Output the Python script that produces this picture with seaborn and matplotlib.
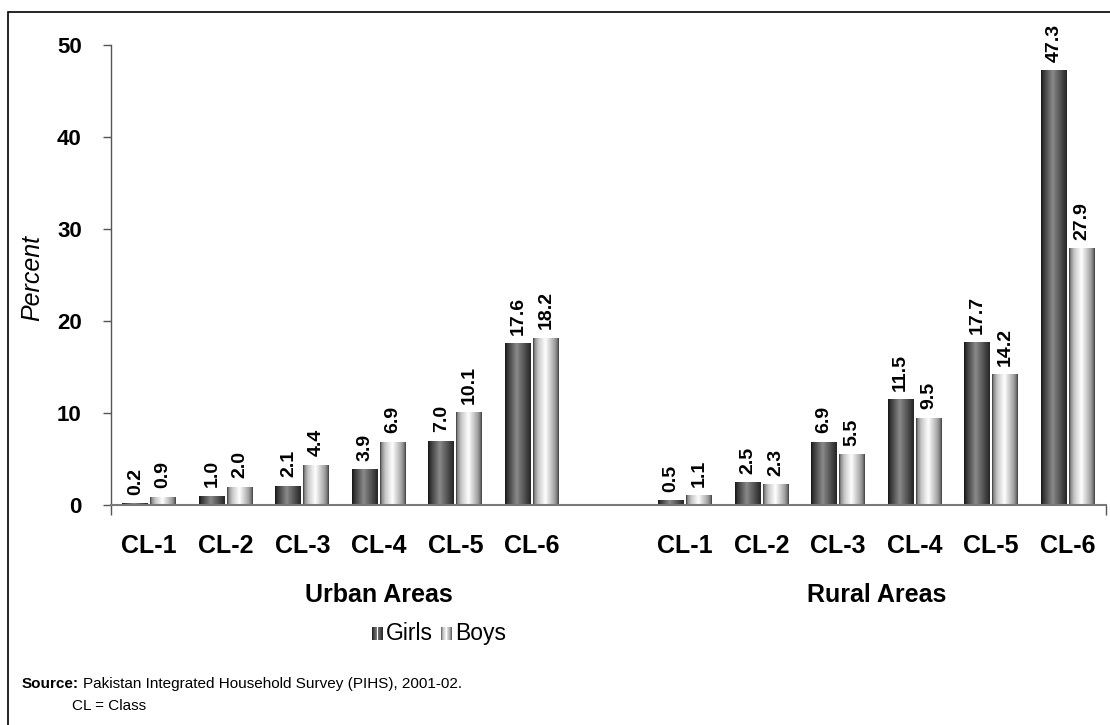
import numpy as np
import pandas as pd
import matplotlib
matplotlib.use("Agg")
import matplotlib.pyplot as plt
from matplotlib.patches import Rectangle
from matplotlib.colors import LinearSegmentedColormap
import matplotlib.transforms as mtrans
import seaborn as sns

# ---- data ----
classes = ["CL-1", "CL-2", "CL-3", "CL-4", "CL-5", "CL-6"]
areas = ["Urban Areas", "Rural Areas"]
urban_girls = [0.2, 1.0, 2.1, 3.9, 7.0, 17.6]
urban_boys = [0.9, 2.0, 4.4, 6.9, 10.1, 18.2]
rural_girls = [0.5, 2.5, 6.9, 11.5, 17.7, 47.3]
rural_boys = [1.1, 2.3, 5.5, 9.5, 14.2, 27.9]
sexes = ["Girls", "Boys"]
y_ticks = [0, 10, 20, 30, 40, 50]

rows = []
for area, g, b in [("U", urban_girls, urban_boys), ("R", rural_girls, rural_boys)]:
    for c, gv, bv in zip(classes, g, b):
        rows.append({"key": f"{area} {c}", "sex": "Girls", "value": gv})
        rows.append({"key": f"{area} {c}", "sex": "Boys", "value": bv})
df = pd.DataFrame(rows)
order = [f"U {c}" for c in classes] + ["gap"] + [f"R {c}" for c in classes]

sns.set_style("white")
plt.rcParams["font.family"] = ["Liberation Sans", "DejaVu Sans"]
plt.rcParams["text.color"] = "black"
plt.rcParams["xtick.color"] = "black"
plt.rcParams["ytick.color"] = "black"

W, H = 1110, 725
fig = plt.figure(figsize=(W / 100, H / 100), dpi=100)
ax = fig.add_axes([111 / W, 1 - 505 / H, (1106 - 111) / W, 460 / H])

sns.barplot(data=df, x="key", y="value", hue="sex", order=order,
            hue_order=sexes, palette=["#555555", "#dddddd"],
            width=0.73, gap=0.07, linewidth=0, errorbar=None,
            legend=False, ax=ax)

# gradients (cylinder-like shading)
girls_cmap = LinearSegmentedColormap.from_list(
    "girls", [(0, "#151515"), (0.08, "#333333"), (0.45, "#8a8a8a"),
              (0.8, "#4a4a4a"), (1, "#262626")])
boys_cmap = LinearSegmentedColormap.from_list(
    "boys", [(0, "#3a3a3a"), (0.06, "#8c8c8c"), (0.2, "#c8c8c8"),
             (0.48, "#ffffff"), (0.85, "#a0a0a0"), (0.95, "#707070"),
             (1, "#404040")])
grad = np.linspace(0, 1, 64).reshape(1, -1)
for cont, cmap in zip(ax.containers, [girls_cmap, boys_cmap]):
    for p in cont.patches:
        x, w, h = p.get_x(), p.get_width(), p.get_height()
        if not np.isfinite(h) or h == 0:
            continue
        im = ax.imshow(grad, cmap=cmap, extent=[x, x + w, 0, h],
                       aspect="auto", interpolation="bilinear", zorder=2)
        im.set_clip_path(p)
    ax.bar_label(cont, fmt="%.1f", rotation=90, padding=6,
                 fontsize=14, fontweight="bold", color="black")

ax.set_xlim(-0.5, len(order) - 0.5)
ax.set_ylim(0, 50)
ax.set_yticks(y_ticks)
ax.set_yticklabels([str(t) for t in y_ticks], fontsize=16, fontweight="bold")
ax.tick_params(axis="y", direction="out", length=6, width=1, color="#555555",
               labelcolor="black", pad=15, left=True)

xlabels = classes + [""] + classes
ax.set_xticks(range(len(order)))
ax.set_xticklabels(xlabels, fontsize=18, fontweight="bold")
ax.tick_params(axis="x", length=0, pad=21, labelcolor="black")
ax.set_xticks([-0.5, len(order) - 0.5], minor=True)
ax.tick_params(axis="x", which="minor", direction="out", length=7, width=1,
               color="#555555", bottom=True)
ax.set_xlabel("")
ax.set_ylabel("")

for s in ["top", "right"]:
    ax.spines[s].set_visible(False)
ax.spines["left"].set_color("#555555")
ax.spines["bottom"].set_color("#7a7a7a")
ax.spines["left"].set_linewidth(1)
ax.spines["bottom"].set_linewidth(1.5)

# group labels
trans = mtrans.blended_transform_factory(ax.transData, ax.transAxes)
ax.text(3.0, -0.196, areas[0], transform=trans, ha="center", va="center",
        fontsize=18, fontweight="bold")
ax.text(9.5, -0.196, areas[1], transform=trans, ha="center", va="center",
        fontsize=18, fontweight="bold")

# y label
fig.text(32 / W, 1 - 278 / H, "Percent", rotation=90, ha="center", va="center",
         fontsize=18, fontstyle="italic")

# legend: gradient swatches + labels (baseline aligned)
for label, cmap, xpix in [(sexes[0], girls_cmap, 372), (sexes[1], boys_cmap, 441)]:
    n = 12
    sw, sh = 11, 13
    for i in range(n):
        fig.patches.append(Rectangle(((xpix + sw * i / n) / W, 1 - 640 / H),
                                     sw / n / W, sh / H, transform=fig.transFigure,
                                     facecolor=cmap((i + 0.5) / n), edgecolor="none"))
    fig.text((xpix + sw + 3) / W, 1 - 640 / H, label, fontsize=16.5,
             ha="left", va="baseline")

# source notes
src_fs = 11
t1 = fig.text(22 / W, 1 - 684 / H, "Source:", fontsize=src_fs, fontweight="bold",
              ha="left", va="center")
fig.canvas.draw()
bb = t1.get_window_extent(renderer=fig.canvas.get_renderer())
fig.text((bb.x1 + 4) / W, 1 - 684 / H,
         "Pakistan Integrated Household Survey (PIHS), 2001-02.",
         fontsize=src_fs, ha="left", va="center")
fig.text(72 / W, 1 - 706 / H, "CL = Class", fontsize=src_fs, ha="left", va="center")

# outer border
fig.patches.append(Rectangle((8 / W, -0.05), 1.2, 1 - 12 / H + 0.05,
                             transform=fig.transFigure, fill=False,
                             edgecolor="black", linewidth=1.2))

fig.savefig("out.png", dpi=100)
